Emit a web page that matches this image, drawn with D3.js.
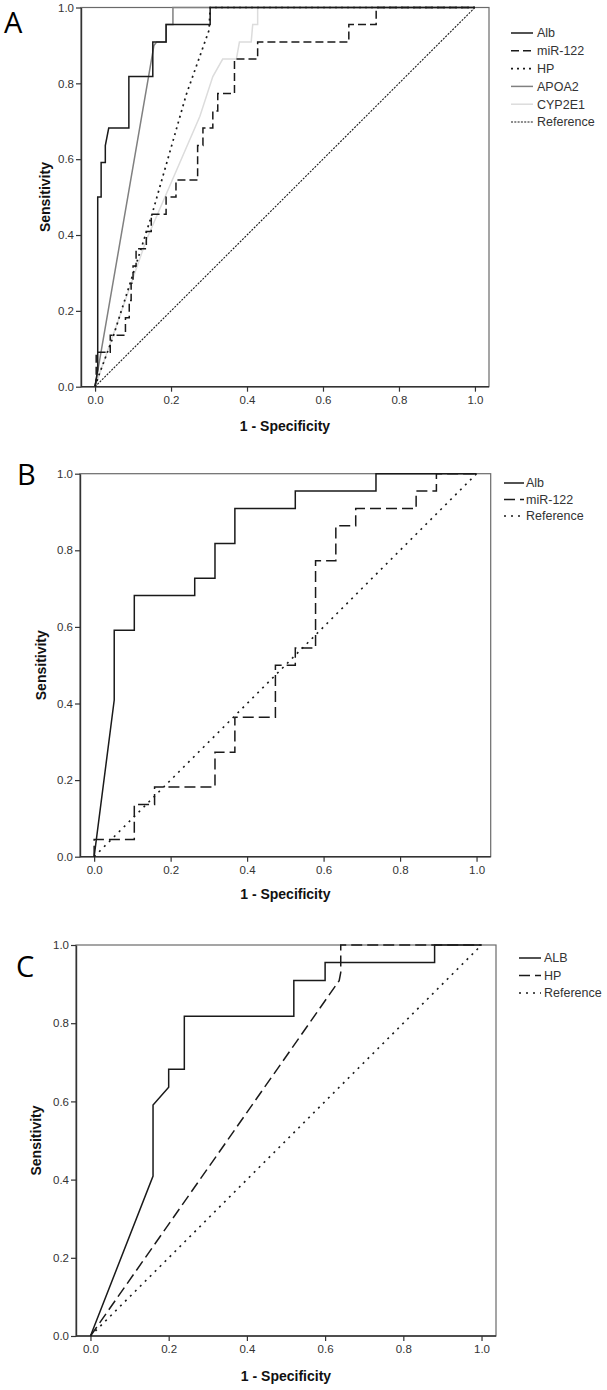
<!DOCTYPE html>
<html><head><meta charset="utf-8">
<script src="https://cdn.jsdelivr.net/npm/d3@7/dist/d3.min.js"></script>
<style>body{margin:0;background:#fff}svg{display:block}</style>
</head><body>
<svg id="chart" width="607" height="1390"></svg>
<script>
// ---------- DATA (1 - Specificity, Sensitivity) ----------
const tickValues = [0, 0.2, 0.4, 0.6, 0.8, 1.0];
const tickLabels = ["0.0", "0.2", "0.4", "0.6", "0.8", "1.0"];
const xTitle = "1 - Specificity";
const yTitle = "Sensitivity";

// Panel A
const aAlb = [[0,0],[0.007,0.045],[0.007,0.5],[0.016,0.5],[0.016,0.591],[0.027,0.591],[0.027,0.636],[0.036,0.682],[0.089,0.682],[0.089,0.818],[0.152,0.818],[0.152,0.909],[0.187,0.909],[0.187,0.955],[0.303,0.955],[0.303,1],[1,1]];
const aMiR = [[0,0],[0.003,0.02],[0.003,0.091],[0.04,0.091],[0.04,0.136],[0.08,0.136],[0.08,0.182],[0.09,0.182],[0.09,0.227],[0.095,0.227],[0.095,0.273],[0.1,0.273],[0.1,0.318],[0.108,0.318],[0.108,0.364],[0.135,0.364],[0.135,0.409],[0.148,0.409],[0.148,0.455],[0.187,0.455],[0.187,0.5],[0.213,0.5],[0.213,0.545],[0.27,0.545],[0.27,0.636],[0.284,0.636],[0.284,0.682],[0.31,0.682],[0.31,0.727],[0.323,0.727],[0.323,0.773],[0.367,0.773],[0.367,0.864],[0.428,0.864],[0.428,0.909],[0.668,0.909],[0.668,0.955],[0.74,0.955],[0.74,1],[1,1]];
const aHP = [[0,0],[0.01,0.03],[0.047,0.13],[0.15,0.455],[0.24,0.77],[0.30,0.94],[0.303,1],[1,1]];
const aAPOA2 = [[0,0],[0.155,0.9],[0.162,0.909],[0.187,0.909],[0.187,0.955],[0.205,0.955],[0.205,1],[1,1]];
const aCYP2E1 = [[0,0],[0.135,0.387],[0.276,0.713],[0.31,0.818],[0.336,0.864],[0.372,0.864],[0.38,0.909],[0.411,0.909],[0.415,0.955],[0.428,0.955],[0.428,1],[1,1]];
const refLine = [[0,0],[1,1]];

// Panel B
const bAlb = [[0,0],[0.0525,0.409],[0.0525,0.591],[0.105,0.591],[0.105,0.682],[0.263,0.682],[0.263,0.727],[0.316,0.727],[0.316,0.818],[0.368,0.818],[0.368,0.909],[0.526,0.909],[0.526,0.955],[0.737,0.955],[0.737,1],[1,1]];
const bMiR = [[0,0],[0,0.045],[0.105,0.045],[0.105,0.136],[0.158,0.136],[0.158,0.182],[0.316,0.182],[0.316,0.273],[0.368,0.273],[0.368,0.364],[0.474,0.364],[0.474,0.5],[0.526,0.5],[0.526,0.545],[0.579,0.545],[0.579,0.773],[0.632,0.773],[0.632,0.864],[0.684,0.864],[0.684,0.909],[0.842,0.909],[0.842,0.955],[0.895,0.955],[0.895,1],[1,1]];

// Panel C
const cALB = [[0,0],[0.16,0.409],[0.16,0.591],[0.2,0.636],[0.2,0.682],[0.24,0.682],[0.24,0.818],[0.52,0.818],[0.52,0.909],[0.6,0.909],[0.6,0.955],[0.88,0.955],[0.88,1],[1,1]];
const cHP = [[0,0],[0.636,0.909],[0.64,0.93],[0.64,1],[1,1]];

// ---------- STYLES ----------
const styles = {
  solid:   {stroke: "#1a1a1a", dash: null, w: 1.5},
  dashA:   {stroke: "#1a1a1a", dash: "8,4", w: 1.5},
  dotHP:   {stroke: "#1a1a1a", dash: "2,4", w: 1.7},
  grey:    {stroke: "#808080", dash: null, w: 1.5},
  light:   {stroke: "#dcdcdc", dash: null, w: 1.5},
  refDense:{stroke: "#1a1a1a", dash: "2,1.3", w: 1.1},
  dashB:   {stroke: "#1a1a1a", dash: "11,5", w: 1.5},
  refSparse:{stroke: "#1a1a1a", dash: "2,5", w: 1.6}
};

const panels = [
  {label: "A", lx: 4, ly: 33, left: 81, right: 489, top: 7.5, bottom: 386.7, ytx: 50, xty: 431,
   legend: {x1: 511, x2: 533, tx: 537, y0: 33, dy: 17.8},
   series: [
     {name: "Reference", data: refLine, st: "refDense", legendIdx: 5},
     {name: "CYP2E1", data: aCYP2E1, st: "light", legendIdx: 4},
     {name: "APOA2", data: aAPOA2, st: "grey", legendIdx: 3},
     {name: "HP", data: aHP, st: "dotHP", legendIdx: 2},
     {name: "miR-122", data: aMiR, st: "dashA", legendIdx: 1},
     {name: "Alb", data: aAlb, st: "solid", legendIdx: 0}
   ]},
  {label: "B", lx: 17, ly: 485, left: 80, right: 490.7, top: 473.7, bottom: 856.7, ytx: 46, xty: 899,
   legend: {x1: 504, x2: 524, tx: 526, y0: 483, dy: 16.5},
   series: [
     {name: "Reference", data: refLine, st: "refSparse", legendIdx: 2},
     {name: "miR-122", data: bMiR, st: "dashB", legendIdx: 1},
     {name: "Alb", data: bAlb, st: "solid", legendIdx: 0}
   ]},
  {label: "C", lx: 16, ly: 977, left: 76, right: 496, top: 945, bottom: 1336, ytx: 41, xty: 1381,
   legend: {x1: 519, x2: 541, tx: 544, y0: 958, dy: 17.5},
   series: [
     {name: "Reference", data: refLine, st: "refSparse", legendIdx: 2},
     {name: "HP", data: cHP, st: "dashB", legendIdx: 1},
     {name: "ALB", data: cALB, st: "solid", legendIdx: 0}
   ]}
];

const svg = d3.select("#chart");
const font = "'Liberation Sans', Arial, sans-serif";

panels.forEach(p => {
  const g = svg.append("g");
  const x = d3.scaleLinear().domain([-0.037, 1.037]).range([p.left, p.right]);
  const y = d3.scaleLinear().domain([0, 1]).range([p.bottom, p.top]);

  // frame (top & right)
  g.append("rect").attr("x", p.left).attr("y", p.top)
    .attr("width", p.right - p.left).attr("height", p.bottom - p.top)
    .attr("fill", "none").attr("stroke", "#6a6a6a").attr("stroke-width", 1.2);

  // axes
  const xAxis = d3.axisBottom(x).tickValues(tickValues)
    .tickFormat((d, i) => tickLabels[i]).tickSize(5).tickSizeOuter(0).tickPadding(4);
  const yAxis = d3.axisLeft(y).tickValues(tickValues)
    .tickFormat((d, i) => tickLabels[i]).tickSize(5).tickSizeOuter(0).tickPadding(2);

  const gx = g.append("g").attr("transform", `translate(0,${p.bottom})`).call(xAxis);
  const gy = g.append("g").attr("transform", `translate(${p.left},0)`).call(yAxis);
  [gx, gy].forEach(a => {
    a.select(".domain").attr("stroke", "#333").attr("stroke-width", 1.4);
    a.selectAll(".tick line").attr("stroke", "#333").attr("stroke-width", 1.2);
    a.selectAll("text").attr("font-family", font).attr("font-size", 11.5).attr("fill", "#333");
  });
  gx.select(".domain").attr("d", `M${p.left},0H${p.right}`);

  // titles
  g.append("text").attr("x", (p.left + p.right) / 2).attr("y", p.xty)
    .attr("text-anchor", "middle").attr("font-family", font).attr("font-weight", "bold")
    .attr("font-size", 14).attr("fill", "#111").text(xTitle);
  g.append("text").attr("transform", `translate(${p.ytx},${(p.top + p.bottom) / 2}) rotate(-90)`)
    .attr("text-anchor", "middle").attr("font-family", font).attr("font-weight", "bold")
    .attr("font-size", 14).attr("fill", "#111").text(yTitle);

  // panel letter
  g.append("text").attr("x", p.lx).attr("y", p.ly).attr("font-family", "'Open Sans', 'Noto Sans', sans-serif")
    .attr("font-size", 29).attr("fill", "#000").text(p.label);

  // curves
  const line = d3.line().x(d => x(d[0])).y(d => y(d[1]));
  p.series.forEach(s => {
    const st = styles[s.st];
    g.append("path").attr("d", line(s.data)).attr("fill", "none")
      .attr("stroke", st.stroke).attr("stroke-width", st.w)
      .attr("stroke-dasharray", st.dash).attr("stroke-linejoin", "miter");
  });

  // legend
  const L = p.legend;
  p.series.forEach(s => {
    const st = styles[s.st];
    const ly = L.y0 + s.legendIdx * L.dy;
    g.append("line").attr("x1", L.x1).attr("x2", L.x2).attr("y1", ly).attr("y2", ly)
      .attr("stroke", st.stroke).attr("stroke-width", st.w).attr("stroke-dasharray", st.dash);
    g.append("text").attr("x", L.tx).attr("y", ly).attr("dy", "0.35em")
      .attr("font-family", font).attr("font-size", 12.5).attr("fill", "#333").text(s.name);
  });
});
</script>
</body></html>
